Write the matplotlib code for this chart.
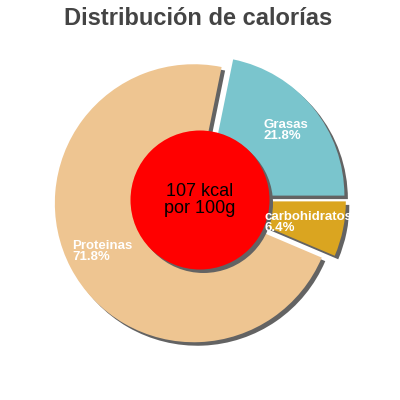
import numpy as np
import matplotlib
matplotlib.use('Agg')
from matplotlib import pyplot as plt
from matplotlib.patches import Circle

# slice data, counterclockwise from east
labels = ['Grasas', 'Proteinas', 'carbohidratos']
percent = [21.8, 71.8, 6.4]
colors = ['#7AC5CD', '#EEC591', '#DAA520']
kcal_text = '107 kcal\npor 100g'
title = 'Distribución de calorías'

plt.rcParams['font.family'] = ['Liberation Sans', 'DejaVu Sans']

fig = plt.figure(figsize=(4, 4), dpi=100)
ax = fig.add_axes([0, 0, 1, 1])

R = 139
cx, cy = 200, 200
expl = [0.05 * R] * len(percent)
shadow_off = 3.5
shadow_col = '#636363'

# shadow pie drawn first, shifted right and down
ax.pie(percent, radius=R, center=(cx + shadow_off, cy - shadow_off),
       colors=[shadow_col] * 3, explode=expl, startangle=0,
       wedgeprops={'linewidth': 0})
wedges, _ = ax.pie(percent, radius=R, center=(cx, cy), colors=colors,
                   explode=expl, startangle=0,
                   wedgeprops={'linewidth': 0})

# white labels inside the slices
for w, lab, p in zip(wedges, labels, percent):
    mid = np.deg2rad((w.theta1 + w.theta2) / 2)
    x = w.center[0] + 0.745 * R * np.cos(mid)
    y = w.center[1] + 0.745 * R * np.sin(mid)
    ax.text(x, y, '%s\n%.1f%%' % (lab, p), color='white', fontsize=9.5,
            fontweight='bold', ha='center', va='center',
            multialignment='left', linespacing=0.9)

# red centre disc with its shadow
ax.add_patch(Circle((cx + shadow_off, cy - shadow_off), 0.5 * R,
                    color=shadow_col, lw=0))
ax.add_patch(Circle((cx, cy), 0.5 * R, color='#FF0000', lw=0))
ax.text(cx, cy, kcal_text, fontsize=13, ha='center', va='center',
        color='black', linespacing=1.0)

ax.set_xlim(0, 400)
ax.set_ylim(0, 400)
ax.set_aspect('equal')
ax.axis('off')

fig.text(0.495, 0.9375, title, fontsize=17, fontweight='bold',
         color='#444444', ha='center', va='baseline')

fig.savefig('out.png', dpi=100)
